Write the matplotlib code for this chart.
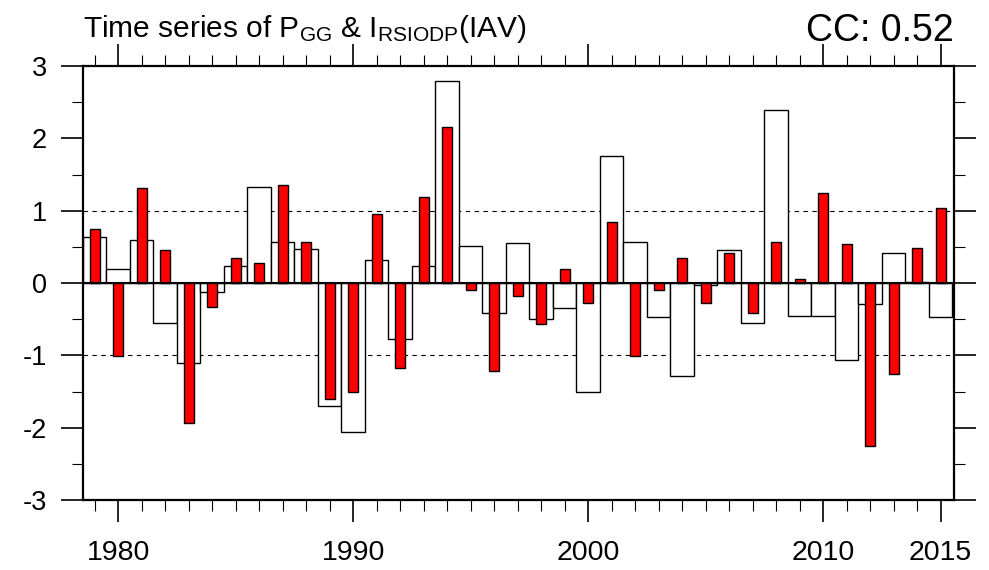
import matplotlib
matplotlib.use("Agg")
import matplotlib.pyplot as plt
import numpy as np

years = list(range(1979, 2016))
# I_RSIODP (white, wide bars)
white_vals = [0.64, 0.20, 0.60, -0.55, -1.10, -0.12, 0.235, 1.33, 0.56, 0.47,
              -1.70, -2.06, 0.32, -0.78, 0.23, 2.79, 0.51, -0.42, 0.55, -0.50,
              -0.35, -1.51, 1.75, 0.56, -0.47, -1.28, -0.03, 0.46, -0.55, 2.39,
              -0.45, -0.45, -1.07, -0.29, 0.42, 0.014, -0.47]
# P_GG (red, narrow bars)
red_vals = [0.75, -1.01, 1.32, 0.46, -1.93, -0.33, 0.35, 0.28, 1.35, 0.56,
            -1.61, -1.50, 0.95, -1.18, 1.19, 2.15, -0.09, -1.21, -0.175, -0.56,
            0.19, -0.27, 0.85, -1.01, -0.09, 0.34, -0.27, 0.41, -0.41, 0.56,
            0.055, 1.24, 0.54, -2.25, -1.26, 0.48, 1.03]
xtick_vals = [1980, 1990, 2000, 2010, 2015]
ytick_vals = [-3, -2, -1, 0, 1, 2, 3]

plt.rcParams['font.family'] = ['Liberation Sans', 'DejaVu Sans']
plt.rcParams['axes.unicode_minus'] = False
plt.rcParams['mathtext.fontset'] = 'custom'
plt.rcParams['mathtext.rm'] = 'Liberation Sans'
plt.rcParams['mathtext.it'] = 'Liberation Sans'

fig = plt.figure(figsize=(9.89, 5.70), dpi=100)
ax = fig.add_axes([83/989, 70/570, (954-83)/989, (500-66)/570])

ax.bar(years, white_vals, width=1.0, color='white', edgecolor='black', linewidth=1.0, zorder=2)
ax.bar(years, red_vals, width=0.42, color='red', edgecolor='black', linewidth=1.0, zorder=3)

ax.axhline(0, color='black', linewidth=1.5, zorder=4)
for yv in (1, -1):
    ax.axhline(yv, color='black', linewidth=0.8, linestyle=(0, (4, 4)), zorder=1)

ax.set_xlim(1978.5, 2015.57)
ax.set_ylim(-3, 3)

ax.set_xticks(xtick_vals)
ax.set_xticklabels([str(v) for v in xtick_vals])
ax.set_xticks(years, minor=True)
ax.set_yticks(ytick_vals)
ax.set_yticklabels([str(v) for v in ytick_vals])
ax.set_yticks(np.arange(-3, 3.01, 0.5), minor=True)

ax.tick_params(axis='both', which='major', direction='out', length=16, width=1.2,
               top=True, right=True)
ax.tick_params(axis='both', which='minor', direction='out', length=8, width=0.8,
               top=True, right=True)
ax.tick_params(axis='x', which='major', pad=13, labelsize=20.5)
ax.tick_params(axis='y', which='major', pad=10, labelsize=19.5)

for sp in ax.spines.values():
    sp.set_linewidth(1.6)

ax.text(0.0, 1.067, r'Time series of P$_{\mathrm{GG}}$ & I$_{\mathrm{RSIODP}}$(IAV)',
        transform=ax.transAxes, fontsize=21.5, ha='left', va='baseline')
ax.text(1.0, 1.058, 'CC: 0.52', transform=ax.transAxes, fontsize=27,
        ha='right', va='baseline')

fig.savefig('out.png', dpi=100)
